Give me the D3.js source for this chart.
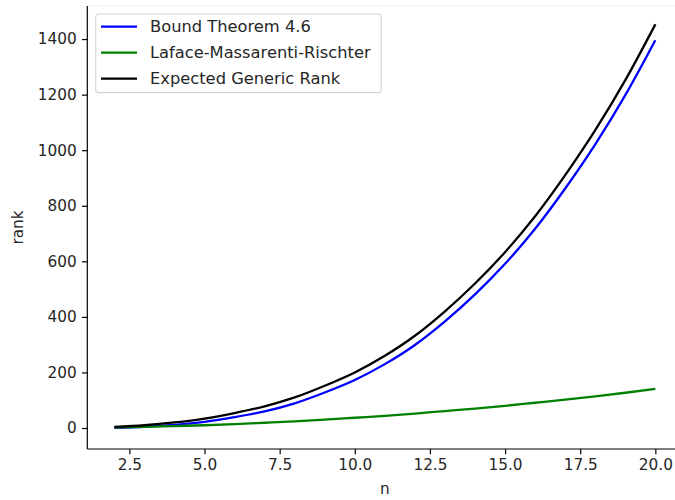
<!DOCTYPE html>
<html>
<head>
<meta charset="utf-8">
<script src="https://cdn.jsdelivr.net/npm/d3@7"></script>
<style>
    body { margin: 0; background: #fff; }
    text { font-family: "DejaVu Sans", sans-serif; fill: #262626; }
</style>
</head>
<body>
<div id="host"></div>
<script>
// Data
const nValues = [2, 3, 4, 5, 6, 7, 8, 9, 10, 11, 12, 13, 14, 15, 16, 17, 18, 19, 20];
const boundRank = [1, 4, 11, 22, 39, 60, 89, 128, 173, 230, 299, 384, 481, 591, 717, 862, 1021, 1198, 1396];
const lmrRank = [2, 4, 7, 10, 14, 19, 24, 30, 37, 44, 52, 61, 70, 80, 91, 102, 114, 127, 141];
const genericRank = [4, 10, 20, 34, 54, 78, 110, 152, 200, 260, 332, 420, 520, 633, 762, 910, 1072, 1252, 1453];

const seriesNames = ["Bound Theorem 4.6", "Laface-Massarenti-Rischter", "Expected Generic Rank"];
const seriesColors = ["#0000ff", "#008000", "#000000"];
const xTicks = [2.5, 5, 7.5, 10, 12.5, 15, 17.5, 20];
const yTicks = [0, 200, 400, 600, 800, 1000, 1200, 1400];

// Layout constants
const width = 675;
const height = 500;
const plot = {left: 87.3, right: 682.4, top: 6, bottom: 449};
const fontSize = 15.3;
const legendFontSize = 16.3;

const svg = d3.select("#host")
    .append("svg")
    .attr("width", width)
    .attr("height", height);

const x = d3.scaleLinear().domain([1.1, 20.9]).range([plot.left, plot.right]);
const y = d3.scaleLinear().domain([-75.5, 1519]).range([plot.bottom, plot.top]);

// Faint top border
svg.append("line")
    .attr("x1", plot.left).attr("x2", width)
    .attr("y1", plot.top).attr("y2", plot.top)
    .attr("stroke", "#ececec")
    .attr("stroke-width", 1.2);

// Curves
const series = [boundRank, lmrRank, genericRank];
const line = d3.line()
    .x((d, i) => x(nValues[i]))
    .y(d => y(d))
    .curve(d3.curveMonotoneX);

svg.append("g").selectAll("path")
    .data(series)
    .join("path")
    .attr("fill", "none")
    .attr("stroke", (d, i) => seriesColors[i])
    .attr("stroke-width", 2.3)
    .attr("d", line);

// Axes
const xAxis = svg.append("g")
    .attr("transform", `translate(0,${plot.bottom})`)
    .call(d3.axisBottom(x).tickValues(xTicks).tickFormat(d3.format(".1f"))
        .tickSizeInner(5.3).tickSizeOuter(0).tickPadding(5.3));

const yAxis = svg.append("g")
    .attr("transform", `translate(${plot.left},0)`)
    .call(d3.axisLeft(y).tickValues(yTicks).tickFormat(d3.format("d"))
        .tickSizeInner(5.3).tickSizeOuter(0).tickPadding(5.3));

for (const axis of [xAxis, yAxis]) {
    axis.select(".domain").attr("stroke", "#000").attr("stroke-width", 1.2);
    axis.selectAll(".tick line").attr("stroke", "#000").attr("stroke-width", 1.2);
    axis.selectAll(".tick text")
        .attr("font-family", "DejaVu Sans")
        .attr("font-size", fontSize)
        .attr("fill", "#262626");
}
// stretch the domain lines to the ends of the plot
xAxis.select(".domain").attr("d", `M${plot.left},0H${plot.right}`);
yAxis.select(".domain").attr("d", `M0,${plot.bottom}V${plot.top}`);

// Axis titles
svg.append("text")
    .attr("x", (plot.left + plot.right) / 2)
    .attr("y", 494)
    .attr("text-anchor", "middle")
    .attr("font-size", fontSize)
    .text("n");

svg.append("text")
    .attr("transform", `translate(23,${(plot.top + plot.bottom) / 2}) rotate(-90)`)
    .attr("text-anchor", "middle")
    .attr("font-size", fontSize)
    .text("rank");

// Legend
const legend = svg.append("g");
legend.append("rect")
    .attr("x", 95.7).attr("y", 14)
    .attr("width", 285.5).attr("height", 78.7)
    .attr("rx", 3)
    .attr("fill", "#fff")
    .attr("fill-opacity", 0.8)
    .attr("stroke", "#d5d5d5")
    .attr("stroke-width", 1.2);

const rows = legend.selectAll("g.row")
    .data(seriesNames)
    .join("g")
    .attr("class", "row")
    .attr("transform", (d, i) => `translate(0,${26.7 + i * 26})`);

rows.append("line")
    .attr("x1", 101).attr("x2", 137)
    .attr("stroke", (d, i) => seriesColors[i])
    .attr("stroke-width", 2.3);

rows.append("text")
    .attr("x", 150)
    .attr("y", 5.7)
    .attr("font-size", legendFontSize)
    .text(d => d);
</script>
</body>
</html>
